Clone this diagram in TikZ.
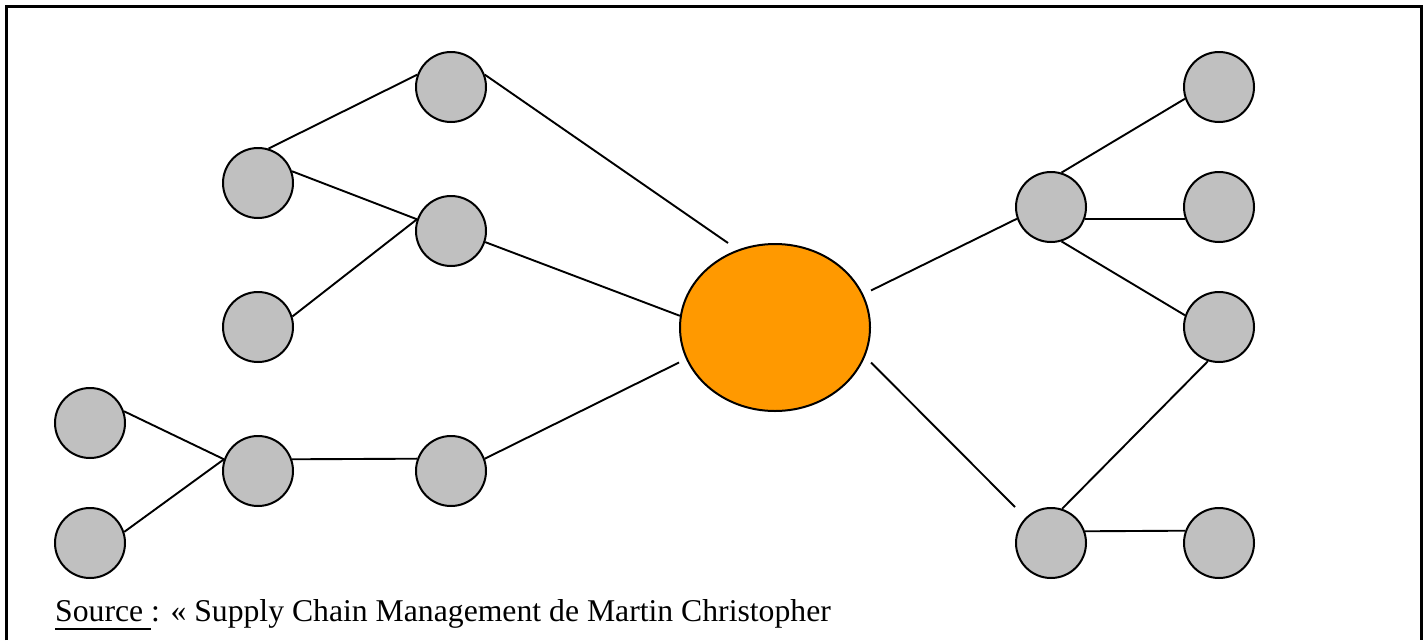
\documentclass[tikz,border=0pt]{standalone}
\usepackage{fontspec}
\setmainfont{Liberation Serif}
\usepackage{xcolor}
\usepackage{tikz}
\usetikzlibrary{positioning, shapes, calc}

\definecolor{hubcol}{RGB}{255,153,0}
\definecolor{dotcol}{RGB}{192,192,192}

% underline set a little lower than \underline does
\newcommand{\srcline}[1]{\setbox0\hbox{#1}\rlap{\rule[-8pt]{\wd0}{1.8pt}}\box0}

\tikzset{
  dot/.style={circle, draw=black, fill=dotcol, line width=2pt, minimum size=70pt, inner sep=0pt},
  hubnode/.style={ellipse, draw=black, fill=hubcol, line width=2pt, minimum width=190pt, minimum height=167pt, inner sep=0pt},
  link/.style={line width=1.9pt}
}

\begin{document}
\begin{tikzpicture}[x=1pt, y=-1pt]
        \useasboundingbox (0,0) rectangle (1423,640);
        % frame, open at the bottom
        \draw[line width=3pt] (6.5,640) -- (6.5,6.5) -- (1421.5,6.5) -- (1421.5,640);

        \node[hubnode] (hub) at (775,327.5) {};

        % suppliers (left) and customers (right)
        \foreach \name/\x/\y in {sup1a/451/87, sup1b/451/231, sup1c/451/471,
                                 sup2a/258/183, sup2b/258/327, sup2c/258/471,
                                 sup3a/90/423, sup3b/90/543,
                                 cli1a/1051/207, cli1b/1051/543,
                                 cli2a/1219/87, cli2b/1219/207, cli2c/1219/327, cli2d/1219/543} {
          \node[dot] (\name) at (\x,\y) {};
        }

        % free ends near the hub
        \coordinate (hubnw) at ([xshift=-47pt]hub.north);
        \coordinate (hubsw) at ([yshift=-35pt]hub.west);
        \coordinate (hubne) at ([yshift=37pt]hub.east);
        \coordinate (hubse) at ([yshift=-35pt]hub.east);
        \coordinate (cli1bnw) at (cli1b.north -| cli1b.west);

        \foreach \a/\b in {sup2a.73/sup1a.160, sup2a.19/sup1b.161, sup2b.17/sup1b.161,
                           sup3a.19/sup2c.161, sup3b.18/sup2c.161, sup2c.19.5/sup1c.160.5,
                           sup1a.20/hubnw, sup1b.-18/hub.173, sup1c.20/hubsw,
                           hubne/cli1a.199.5, hubse/cli1bnw,
                           cli1a.73.5/cli2a.199, cli1a.-19.5/cli2b.199.5, cli1a.-73/cli2c.161.5,
                           cli2c.252.5/cli1b.72, cli1b.19.5/cli2d.160.5} {
          \draw[link] (\a) -- (\b);
        }

        \node[anchor=base west, inner sep=0pt] (source) at (55,621.5)
          {\fontsize{31.7}{38}\selectfont\srcline{Source\ }: « Supply Chain Management de Martin Christopher};
      \end{tikzpicture}
\end{document}
